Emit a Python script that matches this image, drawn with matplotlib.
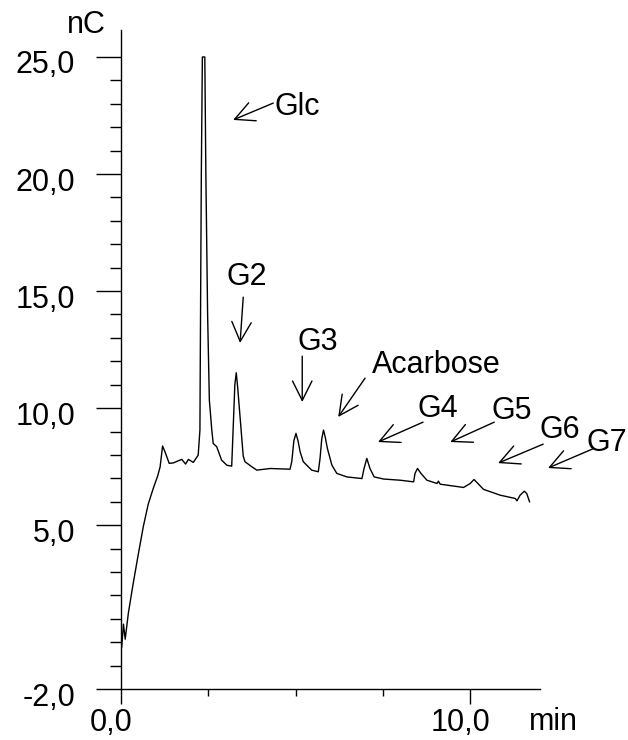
import matplotlib
matplotlib.use("Agg")
import matplotlib.pyplot as plt
import matplotlib.transforms as mtransforms

plt.rcParams["font.family"] = ["Liberation Sans", "DejaVu Sans"]

# chromatogram trace: retention time (min) and detector signal (nC)
time_min = [
    0.02, 0.07, 0.12, 0.21, 0.35, 0.50, 0.64, 0.78, 0.93, 1.05,
    1.12, 1.19, 1.26, 1.38, 1.50, 1.74, 1.85, 1.93, 2.07, 2.21,
    2.26, 2.27, 2.30, 2.33, 2.40, 2.43, 2.48, 2.53, 2.60, 2.64,
    2.74, 2.88, 3.03, 3.17, 3.21, 3.26, 3.30, 3.34, 3.44, 3.50,
    3.55, 3.75, 3.89, 4.27, 4.84, 4.89, 4.95, 5.01, 5.07, 5.13,
    5.22, 5.46, 5.65, 5.70, 5.75, 5.80, 5.85, 5.91, 6.04, 6.18,
    6.47, 6.90, 6.96, 7.04, 7.13, 7.25, 7.52, 7.99, 8.38, 8.42,
    8.49, 8.59, 8.76, 9.05, 9.09, 9.14, 9.81, 10.00, 10.11, 10.24,
    10.38, 10.86, 11.29, 11.34, 11.43, 11.55, 11.62, 11.70,
]
signal_nc = [
    -0.21, 0.77, 0.13, 1.24, 2.52, 3.80, 4.95, 5.90, 6.60, 7.10,
    7.49, 8.38, 8.13, 7.64, 7.66, 7.81, 7.61, 7.81, 7.68, 7.99,
    9.06, 12.0, 20.0, 25.0, 25.0, 20.0, 14.0, 10.34, 9.06, 8.49,
    8.35, 7.78, 7.56, 7.52, 9.06, 11.0, 11.51, 10.9, 9.06, 7.95,
    7.71, 7.49, 7.35, 7.42, 7.39, 7.71, 8.6, 8.92, 8.6, 8.13,
    7.71, 7.35, 7.28, 7.85, 8.7, 9.06, 8.75, 8.28, 7.56, 7.21,
    7.06, 6.99, 7.42, 7.85, 7.42, 7.06, 6.97, 6.92, 6.85, 7.21,
    7.42, 7.21, 6.92, 6.78, 6.88, 6.75, 6.61, 6.78, 6.95, 6.75,
    6.53, 6.28, 6.14, 6.04, 6.28, 6.45, 6.35, 6.00,
]

# peak labels
peak_names = ["Glc", "G2", "G3", "Acarbose", "G4", "G5", "G6", "G7"]

# label placement (data units): text anchor, arrow tail, arrow head
label_pos = [(4.41, 22.52), (3.61, 15.26), (5.64, 12.48), (9.04, 11.50),
             (9.08, 9.62), (11.20, 9.53), (12.58, 8.72), (13.90, 8.16)]
label_ha = ["left", "center", "center", "center",
            "center", "center", "center", "center"]
arrow_tail = [(4.36, 23.03), (3.50, 14.74), (5.19, 12.22), (6.99, 11.28),
              (8.65, 9.40), (10.69, 9.40), (12.09, 8.46), (13.50, 8.25)]
arrow_head = [(3.21, 22.31), (3.41, 12.78), (5.19, 10.26), (6.22, 9.62),
              (7.36, 8.55), (9.43, 8.55), (10.80, 7.65), (12.23, 7.44)]

y_major = [-2, 5, 10, 15, 20, 25]
y_major_labels = ["-2,0", "5,0", "10,0", "15,0", "20,0", "25,0"]
x_major = [0, 10]
x_major_labels = ["0,0", "10,0"]

fig = plt.figure(figsize=(6.28, 7.40), dpi=100)
ax = fig.add_axes([0.1927, 0.0689, 0.6672, 0.8905])

ax.plot(time_min, signal_nc, color="black", lw=1.0)

for name, (tx, ty), ha, tail, head in zip(peak_names, label_pos, label_ha,
                                          arrow_tail, arrow_head):
    ax.text(tx, ty, name, fontsize=22, ha=ha, va="baseline", clip_on=False)
    ax.annotate("", xy=head, xytext=tail, annotation_clip=False,
                arrowprops=dict(arrowstyle="->,head_length=0.7,head_width=0.35",
                                lw=1.0, color="black", shrinkA=0, shrinkB=0,
                                mutation_scale=20))

ax.set_xlim(0, 12.0)
ax.set_ylim(-2, 26.15)

for side in ["top", "right"]:
    ax.spines[side].set_visible(False)
for side in ["left", "bottom"]:
    ax.spines[side].set_linewidth(1.0)

ax.set_yticks(y_major)
ax.set_yticklabels(y_major_labels)
ax.set_yticks(range(-2, 26), minor=True)
ax.set_xticks(x_major)
ax.set_xticklabels(x_major_labels)
ax.set_xticks([2.5, 5, 7.5], minor=True)

ax.tick_params(axis="y", which="major", length=18, width=1.0, pad=15,
               labelsize=22, direction="out")
ax.tick_params(axis="y", which="minor", length=8, width=1.0, direction="out")
ax.tick_params(axis="x", which="major", length=11, width=1.0, pad=3,
               labelsize=22, direction="out")
ax.tick_params(axis="x", which="minor", length=5, width=1.0, direction="out")

# nudge tick labels like the instrument software draws them
shift_y = mtransforms.ScaledTranslation(0, -5 / 100, fig.dpi_scale_trans)
for lab in ax.get_yticklabels():
    lab.set_transform(lab.get_transform() + shift_y)
shift_x = mtransforms.ScaledTranslation(-10 / 100, 0, fig.dpi_scale_trans)
for lab in ax.get_xticklabels():
    lab.set_transform(lab.get_transform() + shift_x)

fig.text(0.1374, 0.9554, "nC", fontsize=22, ha="center", va="baseline")
fig.text(0.8806, 0.0135, "min", fontsize=22, ha="center", va="baseline")

fig.savefig("out.png", dpi=100)
